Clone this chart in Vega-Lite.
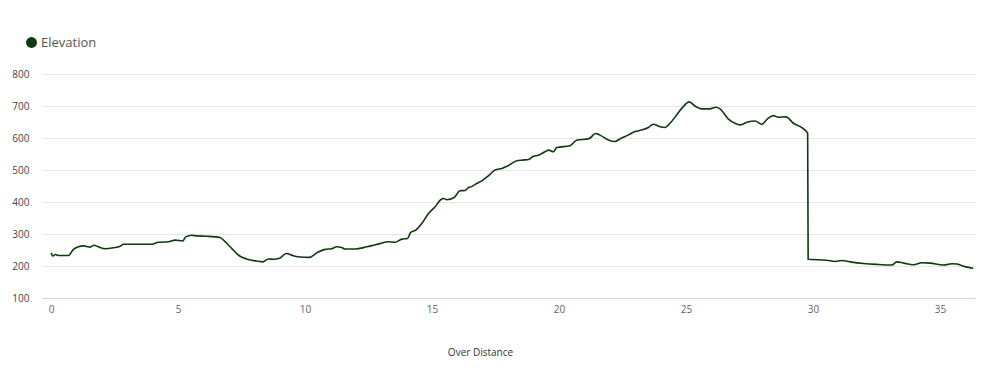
{
  "$schema": "https://vega.github.io/schema/vega-lite/v6.json",
  "width": 933,
  "height": 224,
  "autosize": {"type": "none"},
  "padding": {"left": 42, "top": 74, "right": 25, "bottom": 89},
  "background": "white",
  "config": {"view": {"stroke": null}, "font": "Open Sans"},
  "data": {"values": [
    {"distance": 0.00, "elevation": 241},
    {"distance": 0.07, "elevation": 231},
    {"distance": 0.16, "elevation": 236},
    {"distance": 0.29, "elevation": 233},
    {"distance": 0.68, "elevation": 233},
    {"distance": 0.88, "elevation": 252},
    {"distance": 1.07, "elevation": 260},
    {"distance": 1.27, "elevation": 263},
    {"distance": 1.54, "elevation": 259},
    {"distance": 1.69, "elevation": 265},
    {"distance": 1.86, "elevation": 260},
    {"distance": 2.13, "elevation": 254},
    {"distance": 2.45, "elevation": 257},
    {"distance": 2.72, "elevation": 262},
    {"distance": 2.85, "elevation": 268},
    {"distance": 3.96, "elevation": 268},
    {"distance": 4.22, "elevation": 274},
    {"distance": 4.62, "elevation": 276},
    {"distance": 4.88, "elevation": 281},
    {"distance": 5.18, "elevation": 278},
    {"distance": 5.30, "elevation": 291},
    {"distance": 5.54, "elevation": 296},
    {"distance": 5.73, "elevation": 294},
    {"distance": 6.13, "elevation": 293},
    {"distance": 6.65, "elevation": 289},
    {"distance": 6.85, "elevation": 276},
    {"distance": 7.11, "elevation": 255},
    {"distance": 7.41, "elevation": 232},
    {"distance": 7.70, "elevation": 222},
    {"distance": 8.03, "elevation": 216},
    {"distance": 8.33, "elevation": 213},
    {"distance": 8.56, "elevation": 222},
    {"distance": 8.75, "elevation": 221},
    {"distance": 9.02, "elevation": 225},
    {"distance": 9.25, "elevation": 239},
    {"distance": 9.54, "elevation": 232},
    {"distance": 9.80, "elevation": 228},
    {"distance": 10.17, "elevation": 227},
    {"distance": 10.46, "elevation": 241},
    {"distance": 10.79, "elevation": 252},
    {"distance": 11.05, "elevation": 254},
    {"distance": 11.25, "elevation": 260},
    {"distance": 11.44, "elevation": 258},
    {"distance": 11.57, "elevation": 253},
    {"distance": 11.97, "elevation": 253},
    {"distance": 12.43, "elevation": 260},
    {"distance": 12.95, "elevation": 270},
    {"distance": 13.28, "elevation": 276},
    {"distance": 13.54, "elevation": 274},
    {"distance": 13.81, "elevation": 284},
    {"distance": 14.03, "elevation": 286},
    {"distance": 14.16, "elevation": 305},
    {"distance": 14.37, "elevation": 313},
    {"distance": 14.59, "elevation": 332},
    {"distance": 14.85, "elevation": 363},
    {"distance": 15.12, "elevation": 385},
    {"distance": 15.34, "elevation": 407},
    {"distance": 15.47, "elevation": 411},
    {"distance": 15.58, "elevation": 407},
    {"distance": 15.87, "elevation": 414},
    {"distance": 16.10, "elevation": 435},
    {"distance": 16.30, "elevation": 436},
    {"distance": 16.43, "elevation": 445},
    {"distance": 16.56, "elevation": 448},
    {"distance": 16.69, "elevation": 455},
    {"distance": 16.96, "elevation": 466},
    {"distance": 17.22, "elevation": 482},
    {"distance": 17.48, "elevation": 500},
    {"distance": 17.75, "elevation": 505},
    {"distance": 18.01, "elevation": 514},
    {"distance": 18.34, "elevation": 529},
    {"distance": 18.57, "elevation": 531},
    {"distance": 18.80, "elevation": 533},
    {"distance": 18.99, "elevation": 543},
    {"distance": 19.19, "elevation": 546},
    {"distance": 19.45, "elevation": 557},
    {"distance": 19.59, "elevation": 562},
    {"distance": 19.78, "elevation": 557},
    {"distance": 19.91, "elevation": 570},
    {"distance": 20.43, "elevation": 576},
    {"distance": 20.69, "elevation": 593},
    {"distance": 21.18, "elevation": 598},
    {"distance": 21.44, "elevation": 614},
    {"distance": 21.61, "elevation": 609},
    {"distance": 21.94, "elevation": 594},
    {"distance": 22.20, "elevation": 589},
    {"distance": 22.40, "elevation": 597},
    {"distance": 22.72, "elevation": 609},
    {"distance": 22.99, "elevation": 620},
    {"distance": 23.25, "elevation": 625},
    {"distance": 23.52, "elevation": 633},
    {"distance": 23.71, "elevation": 643},
    {"distance": 23.98, "elevation": 635},
    {"distance": 24.17, "elevation": 633},
    {"distance": 24.37, "elevation": 646},
    {"distance": 24.63, "elevation": 672},
    {"distance": 24.89, "elevation": 698},
    {"distance": 25.13, "elevation": 713},
    {"distance": 25.35, "elevation": 700},
    {"distance": 25.61, "elevation": 691},
    {"distance": 25.94, "elevation": 691},
    {"distance": 26.18, "elevation": 696},
    {"distance": 26.34, "elevation": 691},
    {"distance": 26.67, "elevation": 659},
    {"distance": 26.93, "elevation": 646},
    {"distance": 27.13, "elevation": 641},
    {"distance": 27.46, "elevation": 651},
    {"distance": 27.72, "elevation": 653},
    {"distance": 27.98, "elevation": 643},
    {"distance": 28.20, "elevation": 659},
    {"distance": 28.44, "elevation": 670},
    {"distance": 28.64, "elevation": 665},
    {"distance": 28.94, "elevation": 666},
    {"distance": 29.23, "elevation": 646},
    {"distance": 29.55, "elevation": 633},
    {"distance": 29.79, "elevation": 615},
    {"distance": 29.81, "elevation": 221},
    {"distance": 30.54, "elevation": 218},
    {"distance": 30.87, "elevation": 214},
    {"distance": 31.13, "elevation": 217},
    {"distance": 31.46, "elevation": 213},
    {"distance": 31.99, "elevation": 208},
    {"distance": 32.51, "elevation": 205},
    {"distance": 33.11, "elevation": 203},
    {"distance": 33.30, "elevation": 213},
    {"distance": 33.57, "elevation": 209},
    {"distance": 33.96, "elevation": 204},
    {"distance": 34.29, "elevation": 210},
    {"distance": 34.61, "elevation": 209},
    {"distance": 35.14, "elevation": 203},
    {"distance": 35.47, "elevation": 207},
    {"distance": 35.67, "elevation": 206},
    {"distance": 35.98, "elevation": 198},
    {"distance": 36.31, "elevation": 193}
  ]},
  "mark": {"type": "line", "strokeWidth": 1.6, "interpolate": "monotone"},
  "encoding": {
    "x": {
      "field": "distance",
      "type": "quantitative",
      "scale": {"domain": [-0.36, 36.38], "nice": false, "zero": false},
      "axis": {
        "values": [0, 5, 10, 15, 20, 25, 30, 35],
        "grid": false,
        "ticks": false,
        "domainColor": "#ccd6eb",
        "domainWidth": 1,
        "labelColor": "#666666",
        "labelFontSize": 10,
        "labelPadding": 6,
        "labelFont": "Open Sans",
        "title": "Over Distance",
        "titleFont": "Open Sans",
        "titleFontSize": 10,
        "titleFontWeight": "normal",
        "titleColor": "#333333",
        "titleX": 438,
        "titleY": 54,
        "titleAlign": "center",
        "titleBaseline": "middle"
      }
    },
    "y": {
      "field": "elevation",
      "type": "quantitative",
      "scale": {"domain": [100, 800], "nice": false, "zero": false},
      "axis": {
        "values": [100, 200, 300, 400, 500, 600, 700, 800],
        "domain": false,
        "ticks": false,
        "grid": true,
        "gridColor": "#e6e6e6",
        "gridWidth": 1,
        "labelColor": "#444444",
        "labelFontSize": 10,
        "labelPadding": 13,
        "labelFont": "Open Sans",
        "title": null
      }
    },
    "color": {
      "datum": "Elevation",
      "type": "nominal",
      "scale": {"range": ["#0f3a0f"]},
      "legend": {
        "title": null,
        "orient": "none",
        "legendX": -17,
        "legendY": -38,
        "symbolType": "circle",
        "symbolSize": 120,
        "labelFont": "Open Sans",
        "labelFontSize": 13,
        "labelColor": "#555555",
        "labelOffset": 3,
        "encode": {"symbols": {"update": {"fill": {"value": "#0f3a0f"}, "stroke": {"value": "#0f3a0f"}, "strokeWidth": {"value": 0}}}}
      }
    }
  }
}
